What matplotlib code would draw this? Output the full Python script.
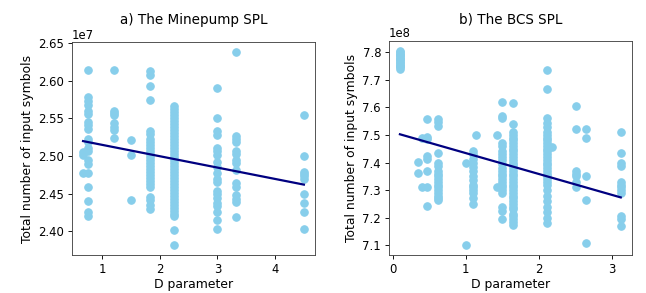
import matplotlib.pyplot as plt
import numpy as np

# a) Minepump SPL  (values in units of 1e7)
mine_x = [0.67] * 3 + [0.75] * 20 + [1.2] * 8 + [1.5] * 3 + [1.83] * 27 + [2.25] * 40 \
    + [3.0] * 20 + [3.33] * 15 + [4.5] * 10
mine_y = [2.505, 2.501, 2.478,
          2.614, 2.578, 2.573, 2.568, 2.560, 2.556, 2.545, 2.541, 2.536, 2.523,
          2.519, 2.510, 2.507, 2.495, 2.490, 2.478, 2.459, 2.440, 2.425, 2.420,
          2.614, 2.560, 2.557, 2.554, 2.544, 2.539, 2.534, 2.524,
          2.521, 2.501, 2.441,
          2.613, 2.608, 2.593, 2.575, 2.533, 2.529, 2.523, 2.519, 2.515, 2.511,
          2.507, 2.503, 2.499, 2.495, 2.491, 2.487, 2.483, 2.479, 2.475, 2.471,
          2.467, 2.463, 2.459, 2.446, 2.441, 2.435, 2.429,
          2.567, 2.563, 2.559, 2.555, 2.551, 2.547, 2.543, 2.539, 2.535, 2.531,
          2.527, 2.523, 2.519, 2.515, 2.511, 2.507, 2.503, 2.499, 2.495, 2.491,
          2.487, 2.483, 2.479, 2.475, 2.471, 2.467, 2.463, 2.459, 2.455, 2.451,
          2.447, 2.443, 2.439, 2.435, 2.431, 2.427, 2.423, 2.420, 2.402, 2.381,
          2.590, 2.551, 2.533, 2.528, 2.510, 2.506, 2.501, 2.492, 2.486, 2.477,
          2.470, 2.465, 2.453, 2.449, 2.444, 2.438, 2.433, 2.425, 2.415, 2.403,
          2.639, 2.527, 2.523, 2.519, 2.507, 2.502, 2.495, 2.491, 2.481, 2.464,
          2.459, 2.448, 2.443, 2.439, 2.419,
          2.554, 2.500, 2.479, 2.476, 2.473, 2.469, 2.449, 2.438, 2.425, 2.403]
mine_fit = (-0.01514, 2.530)  # slope, intercept

# b) BCS SPL  (values in units of 1e8)
bcs_x = [0.10] * 14 + [0.35] * 2 + [0.40] * 2 + [0.47] * 8 + [0.62] * 18 + [1.0] * 2 \
    + [1.10] * 14 + [1.14] + [1.43] * 2 + [1.50] * 23 + [1.64] * 36 + [2.11] * 32 \
    + [2.18] + [2.51] * 7 + [2.65] * 5 + [3.12] * 12
bcs_y = [7.806, 7.800, 7.795, 7.790, 7.785, 7.780, 7.775, 7.770, 7.765, 7.760,
         7.755, 7.750, 7.745, 7.740,
         7.403, 7.362,
         7.488, 7.313,
         7.558, 7.492, 7.485, 7.422, 7.412, 7.368, 7.313, 7.242,
         7.558, 7.548, 7.532, 7.436, 7.398, 7.388, 7.370, 7.360, 7.350, 7.340,
         7.330, 7.320, 7.310, 7.300, 7.290, 7.280, 7.270, 7.265,
         7.398, 7.100,
         7.440, 7.430, 7.412, 7.400, 7.385, 7.370, 7.350, 7.335, 7.320, 7.310,
         7.300, 7.290, 7.270, 7.250,
         7.499,
         7.499, 7.310,
         7.618, 7.570, 7.560, 7.472, 7.460, 7.440, 7.430, 7.420, 7.410, 7.395,
         7.380, 7.370, 7.360, 7.350, 7.340, 7.330, 7.320, 7.310, 7.300, 7.290,
         7.240, 7.225, 7.194,
         7.615, 7.540, 7.510, 7.500, 7.490, 7.480, 7.470, 7.460, 7.450, 7.440,
         7.430, 7.420, 7.410, 7.400, 7.390, 7.380, 7.370, 7.360, 7.350, 7.340,
         7.330, 7.320, 7.310, 7.300, 7.290, 7.280, 7.270, 7.260, 7.250, 7.240,
         7.230, 7.215, 7.205, 7.195, 7.185, 7.175,
         7.737, 7.668, 7.563, 7.545, 7.530, 7.510, 7.500, 7.490, 7.480, 7.470,
         7.460, 7.450, 7.440, 7.430, 7.420, 7.410, 7.400, 7.390, 7.380, 7.370,
         7.360, 7.350, 7.340, 7.330, 7.320, 7.300, 7.280, 7.260, 7.240, 7.220,
         7.200, 7.180,
         7.458,
         7.604, 7.520, 7.370, 7.360, 7.350, 7.330, 7.310,
         7.520, 7.490, 7.350, 7.263, 7.110,
         7.512, 7.434, 7.398, 7.386, 7.330, 7.320, 7.310, 7.300, 7.290, 7.206,
         7.195, 7.170]
bcs_fit = (-0.0758, 7.510)

titles = ['a) The Minepump SPL', 'b) The BCS SPL']

plt.rcParams['font.size'] = 10.5
plt.rcParams['axes.labelsize'] = 11.2
plt.rcParams['axes.titlesize'] = 12.2

fig = plt.figure(figsize=(646 / 80, 293 / 80), dpi=80)
ax1 = fig.add_axes([0.1115, 0.1297, 0.376, 0.727])
ax2 = fig.add_axes([0.602, 0.1297, 0.376, 0.731])

panels = [(ax1, mine_x, mine_y, mine_fit, 1e7), (ax2, bcs_x, bcs_y, bcs_fit, 1e8)]
for i, (ax, xs, ys, fit, scale) in enumerate(panels):
	xs = np.array(xs)
	ys = np.array(ys) * scale
	ax.scatter(xs, ys, s=45, color='skyblue')
	lx = np.array([xs.min(), xs.max()])
	ax.plot(lx, (fit[0] * lx + fit[1]) * scale, color='navy', linewidth=2)
	ax.set_title(titles[i], pad=16)
	ax.set_xlabel('D parameter', labelpad=2)
	ax.set_ylabel('Total number of input symbols')
	for s in ax.spines.values():
		s.set_color('#444444')

ax1.set_xticks([1, 2, 3, 4])
ax2.set_xticks([0, 1, 2, 3])

fig.savefig('out.png', dpi=80)
